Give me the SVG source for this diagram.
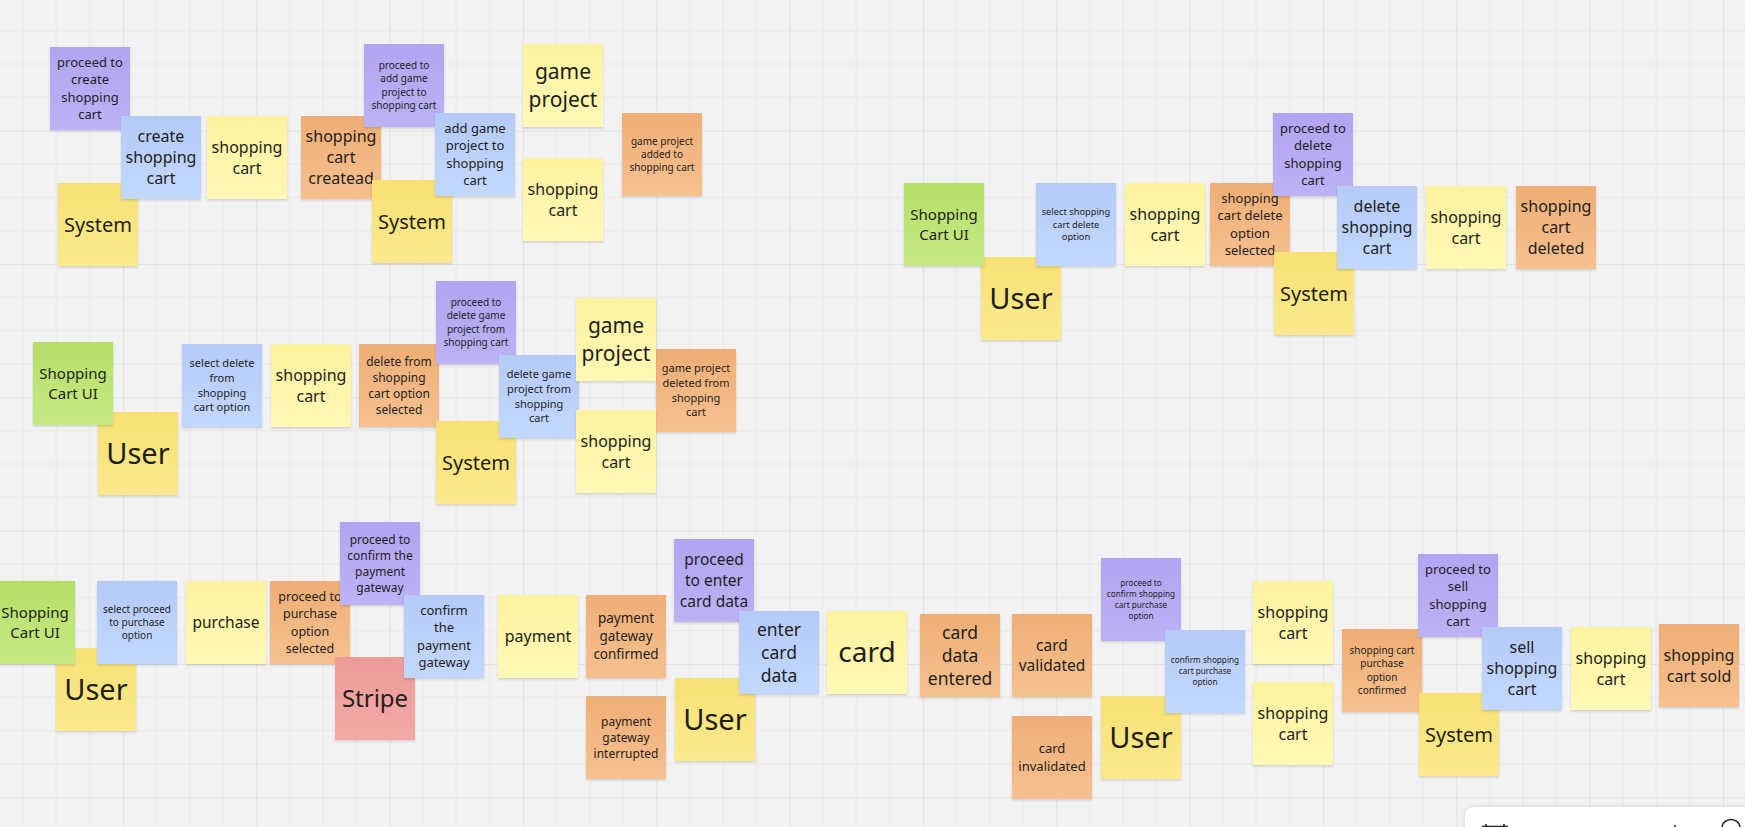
<svg xmlns="http://www.w3.org/2000/svg" width="1745" height="827" viewBox="0 0 1745 827">
<style>
text{font-family:"Noto Sans","Open Sans","DejaVu Sans",sans-serif;fill:#1e1e1e;text-anchor:middle}
.P{fill:url(#gP)}.B{fill:url(#gB)}.Y{fill:url(#gY)}.A{fill:url(#gA)}.O{fill:url(#gO)}.G{fill:url(#gG)}.R{fill:url(#gR)}
.s{filter:url(#sh)}
</style>
<defs>
<pattern id="grid" patternUnits="userSpaceOnUse" x="-10.33" y="-2.67" width="133.33" height="133.33">
<path d="M33.33 0V133.33M66.67 0V133.33M100 0V133.33M0 33.33H133.33M0 66.67H133.33M0 100H133.33" stroke="#e7e7e7" stroke-width="1" fill="none"/>
<path d="M0 0V133.33M0 0H133.33" stroke="#dedede" stroke-width="1.6" fill="none"/>
</pattern>
<filter id="sh" x="-10%" y="-10%" width="120%" height="125%">
<feDropShadow dx="0" dy="1.5" stdDeviation="1.3" flood-color="#000" flood-opacity="0.14"/>
</filter>
<filter id="psh" x="-10%" y="-40%" width="120%" height="180%">
<feDropShadow dx="0" dy="0" stdDeviation="2" flood-color="#000" flood-opacity="0.15"/>
</filter>
<linearGradient id="gP" x1="0" y1="0" x2="0" y2="1"><stop offset="0" stop-color="#b1a4f1"/><stop offset="1" stop-color="#bcb2f5"/></linearGradient>
<linearGradient id="gB" x1="0" y1="0" x2="0" y2="1"><stop offset="0" stop-color="#b4cbf8"/><stop offset="1" stop-color="#c3d8fd"/></linearGradient>
<linearGradient id="gY" x1="0" y1="0" x2="0" y2="1"><stop offset="0" stop-color="#fdf39e"/><stop offset="1" stop-color="#fff8b6"/></linearGradient>
<linearGradient id="gA" x1="0" y1="0" x2="0" y2="1"><stop offset="0" stop-color="#f8e173"/><stop offset="1" stop-color="#fbe98d"/></linearGradient>
<linearGradient id="gO" x1="0" y1="0" x2="0" y2="1"><stop offset="0" stop-color="#efae75"/><stop offset="1" stop-color="#f5c18f"/></linearGradient>
<linearGradient id="gG" x1="0" y1="0" x2="0" y2="1"><stop offset="0" stop-color="#b6de67"/><stop offset="1" stop-color="#c6e985"/></linearGradient>
<linearGradient id="gR" x1="0" y1="0" x2="0" y2="1"><stop offset="0" stop-color="#ee9b98"/><stop offset="1" stop-color="#f2a9a6"/></linearGradient>
</defs>
<rect width="1745" height="827" fill="#f2f2f2"/>
<rect width="1745" height="827" fill="url(#grid)"/>
<g id="connectors"/>

<!-- orange events -->
<g id="o1"><rect class="O s" x="301" y="116" width="80" height="83"/><text font-size="16"><tspan x="341" y="142.1">shopping</tspan><tspan x="341" dy="21">cart</tspan><tspan x="341" dy="21">createad</tspan></text></g>
<g id="o2"><rect class="O s" x="622" y="113" width="80" height="83"/><text font-size="10"><tspan x="662" y="144.7">game project</tspan><tspan x="662" dy="13.3">added to</tspan><tspan x="662" dy="13.3">shopping cart</tspan></text></g>
<g id="o3"><rect class="O s" x="1210" y="183" width="80" height="83"/><text font-size="13"><tspan x="1250" y="202.5">shopping</tspan><tspan x="1250" dy="17.5">cart delete</tspan><tspan x="1250" dy="17.5">option</tspan><tspan x="1250" dy="17.5">selected</tspan></text></g>
<g id="o4"><rect class="O s" x="1516" y="186" width="80" height="83"/><text font-size="16"><tspan x="1556" y="212.1">shopping</tspan><tspan x="1556" dy="21">cart</tspan><tspan x="1556" dy="21">deleted</tspan></text></g>
<g id="o5"><rect class="O s" x="359" y="344" width="80" height="83"/><text font-size="12"><tspan x="399" y="365.7">delete from</tspan><tspan x="399" dy="16">shopping</tspan><tspan x="399" dy="16">cart option</tspan><tspan x="399" dy="16">selected</tspan></text></g>
<g id="o6"><rect class="O s" x="656" y="349" width="80" height="83"/><text font-size="11"><tspan x="696" y="372.45">game project</tspan><tspan x="696" dy="14.6">deleted from</tspan><tspan x="696" dy="14.6">shopping</tspan><tspan x="696" dy="14.6">cart</tspan></text></g>
<g id="o7"><rect class="O s" x="270" y="581" width="80" height="83"/><text font-size="12.5"><tspan x="310" y="601.1">proceed to</tspan><tspan x="310" dy="17.2">purchase</tspan><tspan x="310" dy="17.2">option</tspan><tspan x="310" dy="17.2">selected</tspan></text></g>
<g id="o8"><rect class="O s" x="586" y="595" width="80" height="83"/><text font-size="13.5"><tspan x="626" y="623.4">payment</tspan><tspan x="626" dy="17.8">gateway</tspan><tspan x="626" dy="17.8">confirmed</tspan></text></g>
<g id="o9"><rect class="O s" x="586" y="696" width="80" height="83"/><text font-size="12"><tspan x="626" y="725.7">payment</tspan><tspan x="626" dy="16">gateway</tspan><tspan x="626" dy="16">interrupted</tspan></text></g>
<g id="o10"><rect class="O s" x="920" y="614" width="80" height="83"/><text font-size="17.5"><tspan x="960" y="638.6">card</tspan><tspan x="960" dy="23">data</tspan><tspan x="960" dy="23">entered</tspan></text></g>
<g id="o11"><rect class="O s" x="1012" y="614" width="80" height="83"/><text font-size="15.5"><tspan x="1052" y="650.55">card</tspan><tspan x="1052" dy="20.7">validated</tspan></text></g>
<g id="o12"><rect class="O s" x="1012" y="716" width="80" height="83"/><text font-size="13"><tspan x="1052" y="753.4">card</tspan><tspan x="1052" dy="17.3">invalidated</tspan></text></g>
<g id="o13"><rect class="O s" x="1342" y="629" width="80" height="83"/><text font-size="10"><tspan x="1382" y="654.05">shopping cart</tspan><tspan x="1382" dy="13.3">purchase</tspan><tspan x="1382" dy="13.3">option</tspan><tspan x="1382" dy="13.3">confirmed</tspan></text></g>
<g id="o14"><rect class="O s" x="1659" y="624" width="80" height="83"/><text font-size="16"><tspan x="1699" y="660.6">shopping</tspan><tspan x="1699" dy="21">cart sold</tspan></text></g>

<!-- actors -->
<g id="s1"><rect class="A s" x="58" y="183" width="80" height="83"/><text font-size="20" x="98" y="231.5">System</text></g>
<g id="s2"><rect class="A s" x="372" y="180" width="80" height="83"/><text font-size="20" x="412" y="228.5">System</text></g>
<g id="u1"><rect class="A s" x="981" y="257" width="80" height="83"/><text font-size="29" x="1021" y="308.6">User</text></g>
<g id="s3"><rect class="A s" x="1274" y="252" width="80" height="83"/><text font-size="20" x="1314" y="300.5">System</text></g>
<g id="u2"><rect class="A s" x="98" y="412" width="80" height="83"/><text font-size="29" x="138" y="463.6">User</text></g>
<g id="s4"><rect class="A s" x="436" y="421" width="80" height="83"/><text font-size="20" x="476" y="469.5">System</text></g>
<g id="u3"><rect class="A s" x="56" y="648" width="80" height="83"/><text font-size="29" x="96" y="699.6">User</text></g>
<g id="r1"><rect class="R s" x="335" y="657" width="80" height="83"/><text font-size="24" x="375" y="706.9">Stripe</text></g>
<g id="u4"><rect class="A s" x="675" y="678" width="80" height="83"/><text font-size="29" x="715" y="729.6">User</text></g>
<g id="u5"><rect class="A s" x="1101" y="696" width="80" height="83"/><text font-size="29" x="1141" y="747.6">User</text></g>
<g id="s5"><rect class="A s" x="1419" y="693" width="80" height="83"/><text font-size="20" x="1459" y="741.5">System</text></g>

<!-- UI -->
<g id="g1"><rect class="G s" x="904" y="183" width="80" height="83"/><text font-size="15"><tspan x="944" y="219.85">Shopping</tspan><tspan x="944" dy="19.8">Cart UI</tspan></text></g>
<g id="g2"><rect class="G s" x="33" y="342" width="80" height="83"/><text font-size="15"><tspan x="73" y="378.85">Shopping</tspan><tspan x="73" dy="19.8">Cart UI</tspan></text></g>
<g id="g3"><rect class="G s" x="-5" y="581" width="80" height="83"/><text font-size="15"><tspan x="35" y="617.85">Shopping</tspan><tspan x="35" dy="19.8">Cart UI</tspan></text></g>

<!-- policies (purple) -->
<g id="p1"><rect class="P s" x="50" y="47" width="80" height="83"/><text font-size="13"><tspan x="90" y="67.1">proceed to</tspan><tspan x="90" dy="17.2">create</tspan><tspan x="90" dy="17.2">shopping</tspan><tspan x="90" dy="17.2">cart</tspan></text></g>
<g id="p2"><rect class="P s" x="364" y="44" width="80" height="83"/><text font-size="10"><tspan x="404" y="69.05">proceed to</tspan><tspan x="404" dy="13.3">add game</tspan><tspan x="404" dy="13.3">project to</tspan><tspan x="404" dy="13.3">shopping cart</tspan></text></g>
<g id="p3"><rect class="P s" x="1273" y="113" width="80" height="83"/><text font-size="13"><tspan x="1313" y="133.25">proceed to</tspan><tspan x="1313" dy="17.2">delete</tspan><tspan x="1313" dy="17.2">shopping</tspan><tspan x="1313" dy="17.2">cart</tspan></text></g>
<g id="p4"><rect class="P s" x="436" y="281" width="80" height="83"/><text font-size="10"><tspan x="476" y="306.05">proceed to</tspan><tspan x="476" dy="13.3">delete game</tspan><tspan x="476" dy="13.3">project from</tspan><tspan x="476" dy="13.3">shopping cart</tspan></text></g>
<g id="p5"><rect class="P s" x="340" y="522" width="80" height="83"/><text font-size="12"><tspan x="380" y="543.7">proceed to</tspan><tspan x="380" dy="16">confirm the</tspan><tspan x="380" dy="16">payment</tspan><tspan x="380" dy="16">gateway</tspan></text></g>
<g id="p6"><rect class="P s" x="674" y="539" width="80" height="83"/><text font-size="15.5"><tspan x="714" y="565.2">proceed</tspan><tspan x="714" dy="20.7">to enter</tspan><tspan x="714" dy="20.7">card data</tspan></text></g>
<g id="p7"><rect class="P s" x="1101" y="558" width="80" height="83"/><text font-size="8.2"><tspan x="1141" y="585.9">proceed to</tspan><tspan x="1141" dy="11">confirm shopping</tspan><tspan x="1141" dy="11">cart purchase</tspan><tspan x="1141" dy="11">option</tspan></text></g>
<g id="p8"><rect class="P s" x="1418" y="554" width="80" height="83"/><text font-size="13"><tspan x="1458" y="574.25">proceed to</tspan><tspan x="1458" dy="17.2">sell</tspan><tspan x="1458" dy="17.2">shopping</tspan><tspan x="1458" dy="17.2">cart</tspan></text></g>

<!-- commands (blue) -->
<g id="b1"><rect class="B s" x="121" y="116" width="80" height="83"/><text font-size="16"><tspan x="161" y="142.1">create</tspan><tspan x="161" dy="21">shopping</tspan><tspan x="161" dy="21">cart</tspan></text></g>
<g id="b2"><rect class="B s" x="435" y="113" width="80" height="83"/><text font-size="13"><tspan x="475" y="133.25">add game</tspan><tspan x="475" dy="17.2">project to</tspan><tspan x="475" dy="17.2">shopping</tspan><tspan x="475" dy="17.2">cart</tspan></text></g>
<g id="b3"><rect class="B s" x="1036" y="183" width="80" height="83"/><text font-size="9.3"><tspan x="1076" y="215.4">select shopping</tspan><tspan x="1076" dy="12.4">cart delete</tspan><tspan x="1076" dy="12.4">option</tspan></text></g>
<g id="b4"><rect class="B s" x="1337" y="186" width="80" height="83"/><text font-size="16"><tspan x="1377" y="212.1">delete</tspan><tspan x="1377" dy="21">shopping</tspan><tspan x="1377" dy="21">cart</tspan></text></g>
<g id="b5"><rect class="B s" x="182" y="344" width="80" height="83"/><text font-size="11"><tspan x="222" y="367.45">select delete</tspan><tspan x="222" dy="14.6">from</tspan><tspan x="222" dy="14.6">shopping</tspan><tspan x="222" dy="14.6">cart option</tspan></text></g>
<g id="b6"><rect class="B s" x="499" y="355" width="80" height="83"/><text font-size="11"><tspan x="539" y="378.45">delete game</tspan><tspan x="539" dy="14.6">project from</tspan><tspan x="539" dy="14.6">shopping</tspan><tspan x="539" dy="14.6">cart</tspan></text></g>
<g id="b7"><rect class="B s" x="97" y="581" width="80" height="83"/><text font-size="10"><tspan x="137" y="612.7">select proceed</tspan><tspan x="137" dy="13.3">to purchase</tspan><tspan x="137" dy="13.3">option</tspan></text></g>
<g id="b8"><rect class="B s" x="404" y="595" width="80" height="83"/><text font-size="13"><tspan x="444" y="614.65">confirm</tspan><tspan x="444" dy="17.6">the</tspan><tspan x="444" dy="17.6">payment</tspan><tspan x="444" dy="17.6">gateway</tspan></text></g>
<g id="b9"><rect class="B s" x="739" y="611" width="80" height="83"/><text font-size="17.5"><tspan x="779" y="635.6">enter</tspan><tspan x="779" dy="23">card</tspan><tspan x="779" dy="23">data</tspan></text></g>
<g id="b10"><rect class="B s" x="1165" y="630" width="80" height="83"/><text font-size="8.2"><tspan x="1205" y="663.4">confirm shopping</tspan><tspan x="1205" dy="11">cart purchase</tspan><tspan x="1205" dy="11">option</tspan></text></g>
<g id="b11"><rect class="B s" x="1482" y="627" width="80" height="83"/><text font-size="16"><tspan x="1522" y="653.1">sell</tspan><tspan x="1522" dy="21">shopping</tspan><tspan x="1522" dy="21">cart</tspan></text></g>

<!-- aggregates / read models (light yellow) -->
<g id="y1"><rect class="Y s" x="207" y="116" width="80" height="83"/><text font-size="16"><tspan x="247" y="152.6">shopping</tspan><tspan x="247" dy="21">cart</tspan></text></g>
<g id="y2"><rect class="Y s" x="523" y="44" width="80" height="83"/><text font-size="21"><tspan x="563" y="79">game</tspan><tspan x="563" dy="27.7">project</tspan></text></g>
<g id="y3"><rect class="Y s" x="523" y="158" width="80" height="83"/><text font-size="16"><tspan x="563" y="194.6">shopping</tspan><tspan x="563" dy="21">cart</tspan></text></g>
<g id="y4"><rect class="Y s" x="1125" y="183" width="80" height="83"/><text font-size="16"><tspan x="1165" y="219.6">shopping</tspan><tspan x="1165" dy="21">cart</tspan></text></g>
<g id="y5"><rect class="Y s" x="1426" y="186" width="80" height="83"/><text font-size="16"><tspan x="1466" y="222.6">shopping</tspan><tspan x="1466" dy="21">cart</tspan></text></g>
<g id="y6"><rect class="Y s" x="271" y="344" width="80" height="83"/><text font-size="16"><tspan x="311" y="380.6">shopping</tspan><tspan x="311" dy="21">cart</tspan></text></g>
<g id="y7"><rect class="Y s" x="576" y="298" width="80" height="83"/><text font-size="21"><tspan x="616" y="333">game</tspan><tspan x="616" dy="27.7">project</tspan></text></g>
<g id="y8"><rect class="Y s" x="576" y="410" width="80" height="83"/><text font-size="16"><tspan x="616" y="446.6">shopping</tspan><tspan x="616" dy="21">cart</tspan></text></g>
<g id="y9"><rect class="Y s" x="186" y="581" width="80" height="83"/><text font-size="15.5" x="226" y="627.9">purchase</text></g>
<g id="y10"><rect class="Y s" x="498" y="595" width="80" height="83"/><text font-size="16" x="538" y="642.1">payment</text></g>
<g id="y11"><rect class="Y s" x="827" y="611" width="80" height="83"/><text font-size="28" x="867" y="662.3">card</text></g>
<g id="y12"><rect class="Y s" x="1253" y="581" width="80" height="83"/><text font-size="16"><tspan x="1293" y="617.6">shopping</tspan><tspan x="1293" dy="21">cart</tspan></text></g>
<g id="y13"><rect class="Y s" x="1253" y="682" width="80" height="83"/><text font-size="16"><tspan x="1293" y="718.6">shopping</tspan><tspan x="1293" dy="21">cart</tspan></text></g>
<g id="y14"><rect class="Y s" x="1571" y="627" width="80" height="83"/><text font-size="16"><tspan x="1611" y="663.6">shopping</tspan><tspan x="1611" dy="21">cart</tspan></text></g>

<!-- bottom-right toolbar panel (cut off) -->
<g id="toolbar">
<rect x="1465" y="807" width="300" height="40" rx="9" fill="#ffffff" filter="url(#psh)"/>
<path d="M1482 826.5H1508M1486 824V827M1504 824V827" stroke="#222" stroke-width="1.6" fill="none"/>
<path d="M1675 825V827" stroke="#222" stroke-width="1.5"/>
<path d="M1722 827.5A9 8 0 0 1 1740 827.5" stroke="#222" stroke-width="1.6" fill="none"/>
</g>
</svg>
